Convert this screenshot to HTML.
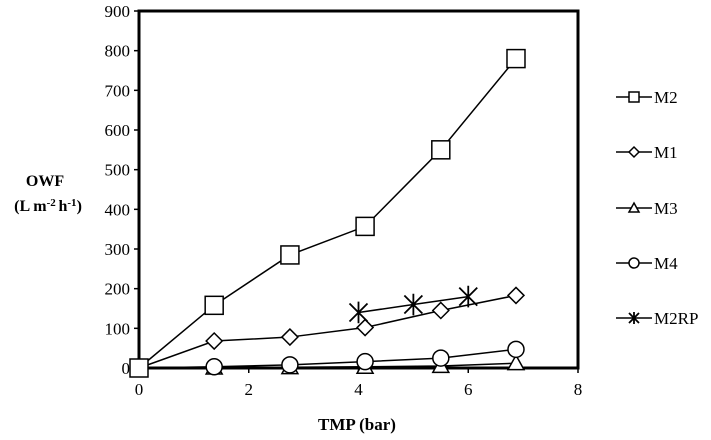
<!DOCTYPE html>
<html><head><meta charset="utf-8"><style>
body{margin:0;background:#fff;}
svg{display:block;}
svg text{font-family:"Liberation Serif","Times New Roman",Times,serif;}
</style></head><body>
<svg id="chart" width="711" height="440" viewBox="0 0 711 440" xmlns="http://www.w3.org/2000/svg" font-family="Liberation Serif, Times New Roman, serif">
<g id="grid"></g>
<g id="marks"></g>
<g id="legend"></g>
<text x="45" y="186" text-anchor="middle" font-weight="bold" font-size="16">OWF</text>
<text x="48" y="211" text-anchor="middle" font-weight="bold" font-size="16">(L m<tspan dy="-5" font-size="11">-2 </tspan><tspan dy="5">h</tspan><tspan dy="-5" font-size="11">-1</tspan><tspan dy="5">)</tspan></text>
<text x="357" y="430" text-anchor="middle" font-weight="bold" font-size="17">TMP (bar)</text>
</svg>
<script>
const xTicks=[0,2,4,6,8];
const yTicks=[0,100,200,300,400,500,600,700,800,900];
const seriesNames=["M2","M1","M3","M4","M2RP"];
const seriesMarkers=["square","diamond","triangle","circle","star"];
const xM2=[0,1.37,2.75,4.12,5.5,6.87];
const yM2=[0,158,285,357,550,780];
const xM1=[0,1.37,2.75,4.12,5.5,6.87];
const yM1=[0,68,78,102,145,183];
const xM3=[0,1.37,2.75,4.12,5.5,6.87];
const yM3=[0,1,2,3,5,12];
const xM4=[0,1.37,2.75,4.12,5.5,6.87];
const yM4=[0,3,8,16,25,47];
const xM2RP=[4,5,6];
const yM2RP=[140,160,180];
const NS="http://www.w3.org/2000/svg";
const X0=139,X1=578,Y0=368,Y1=11;
function sx(v){return X0+(v-0)/(8-0)*(X1-X0);}
function sy(v){return Y0-(v-0)/(900-0)*(Y0-Y1);}
function mk(tag,attrs,parent){const e=document.createElementNS(NS,tag);for(const k in attrs)e.setAttribute(k,attrs[k]);parent.appendChild(e);return e;}
const grid=document.getElementById('grid'),marks=document.getElementById('marks'),legend=document.getElementById('legend');
let frame=mk('rect',{x:X0,y:Y1,width:X1-X0,height:Y0-Y1,fill:'none',stroke:'#000','stroke-width':3},grid);


xTicks.forEach(t=>{
 let l=mk('line',{x1:sx(t),x2:sx(t),y1:Y0,y2:Y0+5,stroke:'#000','stroke-width':1.5},grid);
 
 
 let tx=mk('text',{x:sx(t),y:Y0+27,'text-anchor':'middle','font-size':17},grid);tx.textContent=t;
 
 
});
yTicks.forEach(t=>{
 let l=mk('line',{x1:X0-5,x2:X0,y1:sy(t),y2:sy(t),stroke:'#000','stroke-width':1.5},grid);
 
 
 let tx=mk('text',{x:X0-9,y:sy(t)+6,'text-anchor':'end','font-size':17},grid);tx.textContent=t;
 
 
});
function marker(type,cx,cy,s,parent){
 const st={fill:'#fff',stroke:'#000','stroke-width':1.5};
 let e;
 if(type==='square')e=mk('rect',Object.assign({x:cx-s,y:cy-s,width:2*s,height:2*s},st),parent);
 else if(type==='diamond')e=mk('polygon',Object.assign({points:`${cx},${cy-s} ${cx+s},${cy} ${cx},${cy+s} ${cx-s},${cy}`},st),parent);
 else if(type==='triangle')e=mk('polygon',Object.assign({points:`${cx},${cy-s} ${cx+s},${cy+s*0.8} ${cx-s},${cy+s*0.8}`},st),parent);
 else if(type==='circle')e=mk('circle',Object.assign({cx:cx,cy:cy,r:s},st),parent);
 else{e=mk('path',{d:`M${cx-s},${cy-s}L${cx+s},${cy+s}M${cx+s},${cy-s}L${cx-s},${cy+s}M${cx},${cy-s*1.2}L${cx},${cy+s*1.2}`,stroke:'#000','stroke-width':1.8,fill:'none'},parent);}
 return e;
}
const allX=[xM2,xM1,xM3,xM4,xM2RP],allY=[yM2,yM1,yM3,yM4,yM2RP];
const sizes=[9,8,8,8,9];
const drawOrder=[2,3,1,4,0];
drawOrder.forEach(i=>{
 const xs=allX[i],ys=allY[i];
 let p=mk('polyline',{points:xs.map((x,j)=>sx(x)+','+sy(ys[j])).join(' '),fill:'none',stroke:'#000','stroke-width':1.5},marks);
 
 
 xs.forEach((x,j)=>{
  let m=marker(seriesMarkers[i],sx(x),sy(ys[j]),sizes[i],marks);
  
  
 });
});
const legY=[97,152,208,263,318];
seriesNames.forEach((n,i)=>{
 const g=mk('g',{},legend);
 
 
 mk('line',{x1:616,x2:652,y1:legY[i],y2:legY[i],stroke:'#000','stroke-width':1.5},g);
 marker(seriesMarkers[i],634,legY[i],5,g);
 const t=mk('text',{x:654,y:legY[i]+6,'font-size':17},g);t.textContent=n;
});
</script>
</body></html>
